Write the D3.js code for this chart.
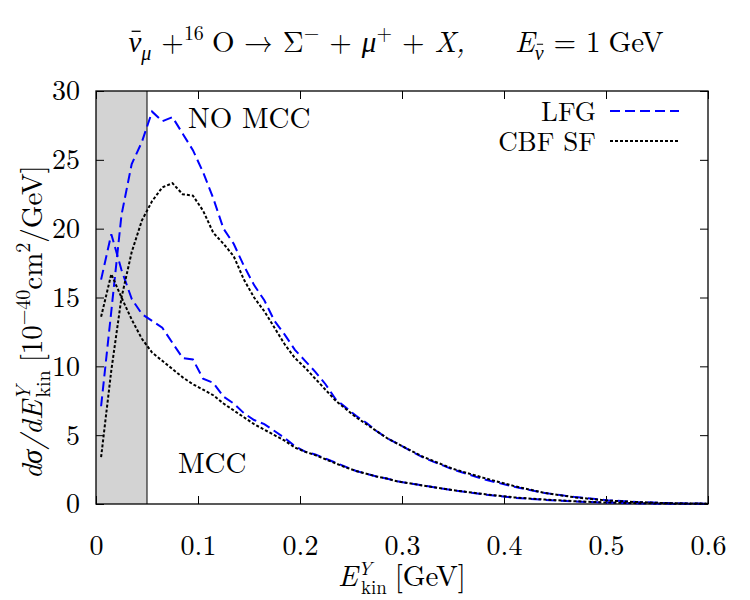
<!DOCTYPE html>
<html><head><meta charset="utf-8">
<script src="https://cdn.jsdelivr.net/npm/d3@7"></script>
<style>body{margin:0;background:#fff}svg{display:block}</style>
</head><body><svg id="c" width="750" height="600"></svg>
<script>
const energy = [0.005,0.015,0.025,0.035,0.045,0.055,0.065,0.075,0.085,0.095,0.105,0.115,0.125,0.135,0.145,0.155,0.165,0.175,0.185,0.195,0.205,0.215,0.225,0.235,0.245,0.255,0.265,0.275,0.285,0.295,0.32,0.35,0.38,0.41,0.44,0.47,0.50,0.53,0.56,0.60];
const lfgNoMCC = [7.1,14.0,21.0,24.7,26.3,28.5,27.8,28.1,26.9,25.7,24.1,22.2,20.0,18.9,17.3,15.9,14.8,13.3,12.3,11.2,10.4,9.6,8.7,7.6,7.0,6.4,5.9,5.3,4.8,4.4,3.4,2.5,1.8,1.25,0.8,0.5,0.28,0.15,0.07,0.02];
const cbfNoMCC = [3.4,9.7,15.0,18.3,20.6,22.0,23.0,23.3,22.5,22.4,21.3,19.7,18.9,18.0,16.3,15.0,14.0,12.8,11.6,10.6,9.9,9.1,8.3,7.5,6.9,6.3,5.8,5.3,4.8,4.4,3.45,2.55,1.9,1.3,0.8,0.48,0.26,0.14,0.06,0.02];
const lfgMCC = [16.3,19.6,17.0,14.9,13.8,13.3,12.8,11.7,10.6,10.5,9.1,8.8,7.8,7.3,6.6,6.1,5.8,5.3,4.8,4.2,3.8,3.6,3.3,3.0,2.7,2.4,2.2,2.0,1.85,1.65,1.35,1.0,0.7,0.45,0.3,0.18,0.1,0.05,0.02,0.01];
const cbfMCC = [13.6,16.7,15.0,13.4,12.0,11.0,10.4,9.8,9.2,8.7,8.3,7.9,7.3,6.8,6.3,5.8,5.4,5.0,4.6,4.1,3.8,3.55,3.25,2.95,2.65,2.4,2.2,2.0,1.85,1.65,1.35,1.0,0.72,0.48,0.32,0.2,0.11,0.06,0.03,0.01];
const xTicks = [0,0.1,0.2,0.3,0.4,0.5,0.6];
const yTicks = [0,5,10,15,20,25,30];
const shadedMax = 0.05;
const seriesNames = ["LFG","CBF SF"];

const FF = '"Latin Modern Roman"';
const svg = d3.select("#c");
const L=96,R=708,T=91,B=504;
const x = d3.scaleLinear().domain([0,0.6]).range([L,R]);
const y = d3.scaleLinear().domain([0,30]).range([B,T]);

svg.append("rect").attr("x",x(0)).attr("y",T).attr("width",x(shadedMax)-x(0)).attr("height",B-T).attr("fill","#d3d3d3");
svg.append("line").attr("x1",x(shadedMax)).attr("x2",x(shadedMax)).attr("y1",T).attr("y2",B).attr("stroke","#000").attr("stroke-width",1);

const fmtX = d=>d===0?"0":d3.format(".1f")(d);
const gB = svg.append("g").attr("transform",`translate(0,${B})`).call(d3.axisBottom(x).tickValues(xTicks).tickSize(-8).tickPadding(29).tickFormat(fmtX));
const gT = svg.append("g").attr("transform",`translate(0,${T})`).call(d3.axisTop(x).tickValues(xTicks).tickSize(-8).tickFormat(""));
const gL = svg.append("g").attr("transform",`translate(${L},0)`).call(d3.axisLeft(y).tickValues(yTicks).tickSize(-8).tickPadding(16));
const gR = svg.append("g").attr("transform",`translate(${R},0)`).call(d3.axisRight(y).tickValues(yTicks).tickSize(-8).tickFormat(""));
[gB,gT,gL,gR].forEach(g=>{g.attr("font-family",null).attr("font-size",null);g.select(".domain").remove();g.selectAll("line").attr("stroke","#000").attr("stroke-width",1);g.selectAll("text").attr("font-size",28).style("font-family",FF);});
gB.selectAll("text").attr("dy","0.8em");
svg.append("rect").attr("x",L).attr("y",T).attr("width",R-L).attr("height",B-T).attr("fill","none").attr("stroke","#000").attr("stroke-width",1.3);

const line = d3.line().x((d,i)=>x(energy[i])).y(d=>y(d));
const blue = {stroke:"#0000ff",dash:"10,5"}, black = {stroke:"#000",dash:"3,2"};
[[lfgNoMCC,blue],[lfgMCC,blue],[cbfNoMCC,black],[cbfMCC,black]].forEach(([s,st])=>{
  svg.append("path").datum(s).attr("d",line).attr("fill","none").attr("stroke",st.stroke).attr("stroke-width",2).attr("stroke-dasharray",st.dash);
});

function txt(xp,yp,size){return svg.append("text").attr("x",xp).attr("y",yp).attr("font-size",size).style("font-family",FF);}
function span(t,o){const s=t.append("tspan").text(o.text);if(o.it)s.attr("font-style","italic");if(o.fs)s.attr("font-size",o.fs);if(o.dx!=null)s.attr("dx",o.dx);if(o.dy!=null)s.attr("dy",o.dy);return s;}

// title
const title = txt(396,52,29).attr("text-anchor","middle");
span(title,{text:"ν",it:1});
span(title,{text:"μ",it:1,fs:20,dy:8});
span(title,{text:"+",dx:10,dy:-8});
span(title,{text:"16",fs:20,dy:-12});
span(title,{text:"O → Σ",dx:8,dy:12});
span(title,{text:"−",fs:20,dy:-12});
span(title,{text:"+",dx:10,dy:12});
span(title,{text:"μ",it:1,dx:10});
span(title,{text:"+",fs:20,dy:-12});
span(title,{text:"+",dx:10,dy:12});
span(title,{text:"X,",it:1,dx:10});
span(title,{text:"E",it:1,dx:50});
span(title,{text:"ν",it:1,fs:20,dy:8});
span(title,{text:"=",dx:10,dy:-8});
span(title,{text:"1",dx:10});
span(title,{text:"GeV",dx:8});
title.selectAll("tspan").each(function(){
  const el=this;
  if(el.textContent==="ν"){
    const ext=el.getExtentOfChar(0);
    const big = +el.getAttribute("font-size")!==20;
    const yy = ext.y + ext.height*(big?0.3:0.25);
    svg.append("line").attr("x1",ext.x+ext.width*0.25).attr("x2",ext.x+ext.width*0.95).attr("y1",yy).attr("y2",yy).attr("stroke","#000").attr("stroke-width",big?1.3:1);
  }
});

txt(188,128,29).text("NO MCC");
txt(178,473,29).text("MCC");

const legY=[111,141];
seriesNames.forEach((n,i)=>{
  txt(596,legY[i]+10,27).attr("text-anchor","end").text(n);
  const st=i===0?blue:black;
  svg.append("line").attr("x1",610).attr("x2",679).attr("y1",legY[i]).attr("y2",legY[i]).attr("stroke",st.stroke).attr("stroke-width",2).attr("stroke-dasharray",st.dash);
});

const xl = txt(402,586,29).attr("text-anchor","middle");
span(xl,{text:"E",it:1});
span(xl,{text:"Y",it:1,fs:19,dy:-11});
span(xl,{text:"kin",fs:19,dx:-11,dy:19});
span(xl,{text:"[GeV]",dx:8,dy:-8});

const yl = svg.append("text").attr("transform","translate(42,322) rotate(-90)").attr("text-anchor","middle").attr("font-size",29).style("font-family",FF);
span(yl,{text:"dσ/dE",it:1});
span(yl,{text:"Y",it:1,fs:20,dy:-12});
span(yl,{text:"kin",fs:20,dx:-12,dy:20});
span(yl,{text:"[10",dx:8,dy:-8});
span(yl,{text:"−40",fs:20,dy:-12});
span(yl,{text:"cm",dy:12});
span(yl,{text:"2",fs:20,dy:-12});
span(yl,{text:"/GeV]",dy:12});
</script></body></html>
